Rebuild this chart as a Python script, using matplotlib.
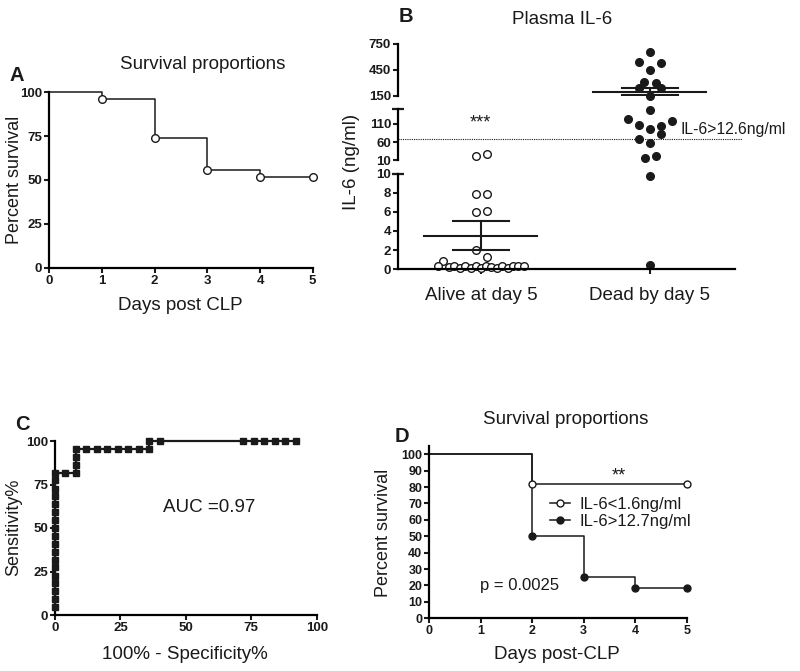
import matplotlib
matplotlib.use("Agg")
from matplotlib import pyplot as plt
from matplotlib.lines import Line2D

plt.rcParams["font.family"] = ["Liberation Sans", "DejaVu Sans"]
plt.rcParams["text.color"] = "#1a1a1a"

# panel A - overall survival after CLP
days_a = [0, 1, 2, 3, 4, 5]
surv_a = [100, 96.3, 74.1, 55.6, 51.9, 51.9]

# panel B - plasma IL-6 (values as drawn on the broken axis)
groups_b = ["Alive at day 5", "Dead by day 5"]
alive_il6 = [22, 27, 7.9, 7.9, 6.0, 6.1, 2.0, 1.25, 0.86,
             0.35, 0.2, 0.3, 0.1, 0.3, 0.1, 0.3, 0.15,
             0.3, 0.2, 0.1, 0.3, 0.15, 0.3, 0.35, 0.3]
dead_il6 = [661, 539, 527, 450, 308, 296, 239, 239, 153, 148, 123,
            119, 107, 104, 95, 82, 68, 57, 23, 15.5, 9.7, 0.4]
alive_mean, alive_sem = 3.5, 1.5
dead_mean, dead_sem = 200, 39
cutoff_drawn = 68
cutoff_label = "IL-6>12.6ng/ml"

# horizontal spread of the dots (beeswarm layout)
alive_jitter = [-0.03, 0.035, -0.03, 0.035, -0.03, 0.035, -0.03, 0.035, -0.225,
                -0.255, -0.19, -0.157, -0.125, -0.093, -0.06, -0.03, 0.0,
                0.03, 0.062, 0.094, 0.126, 0.158, 0.19, 0.222, 0.255]
dead_jitter = [0, -0.065, 0.065, 0, -0.033, 0.033, -0.065, 0.065, 0, 0, -0.13,
               0.13, -0.065, 0.065, 0, 0.065, -0.065, 0, 0.033, -0.03, 0, 0]

# panel C - ROC curve
roc_fpr = [0, 0, 0, 0, 0, 0, 0, 0, 0, 0, 0, 0, 0, 0, 0, 0, 0, 0,
           4, 8, 8, 8, 8, 12, 16, 20, 24, 28, 32, 36, 36, 40,
           72, 76, 80, 84, 88, 92]
roc_tpr = [4.5, 9.1, 13.6, 18.2, 22.7, 27.3, 31.8, 36.4, 40.9, 45.5, 50.0,
           54.5, 59.1, 63.6, 68.2, 72.7, 77.3, 81.8,
           81.8, 81.8, 86.4, 90.9, 95.5, 95.5, 95.5, 95.5, 95.5, 95.5, 95.5,
           95.5, 100, 100, 100, 100, 100, 100, 100, 100]
auc_text = "AUC =0.97"

# panel D - survival split by IL-6
days_low = [0, 2, 5]
surv_low = [100, 81.8, 81.8]
days_high = [0, 2, 3, 4, 5]
surv_high = [100, 50, 25, 18.75, 18.75]
label_low = "IL-6<1.6ng/ml"
label_high = "IL-6>12.7ng/ml"
p_text = "p = 0.0025"

W, H = 800, 671
INK = "#1a1a1a"


def px(x, y):
    return x / W, 1 - y / H


def box(x0, y_top, x1, y_bot):
    return [x0 / W, 1 - y_bot / H, (x1 - x0) / W, (y_bot - y_top) / H]


def style_axes(ax, bottom=True, labelsize=9.5):
    for s in ["top", "right"]:
        ax.spines[s].set_visible(False)
    ax.spines["left"].set_linewidth(1.6)
    ax.spines["bottom"].set_linewidth(1.6)
    ax.spines["bottom"].set_visible(bottom)
    ax.tick_params(direction="out", length=3.5, width=1.5, labelsize=labelsize,
                   pad=1.5, colors=INK)
    for lab in ax.get_yticklabels():
        lab.set_fontweight("bold")
    for lab in ax.get_xticklabels():
        lab.set_fontweight("bold")


fig = plt.figure(figsize=(W / 100, H / 100), dpi=100)

# ---------------- A ----------------
ax = fig.add_axes(box(49.3, 92.3, 312.7, 267.7))
ax.step(days_a, surv_a, where="post", color=INK, lw=1.1, clip_on=False)
ax.plot(days_a[1:], surv_a[1:], "o", ms=5.5, mfc="white", mec=INK, mew=1.0,
        clip_on=False, zorder=3)
ax.set_xlim(0, 5)
ax.set_ylim(0, 100)
ax.set_xticks(range(0, 6))
ax.set_yticks([0, 25, 50, 75, 100])
style_axes(ax)
fig.text(*px(17, 75.5), "A", fontsize=14.5, fontweight="bold", ha="center", va="center")
fig.text(*px(203, 64.5), "Survival proportions", fontsize=13.5, ha="center", va="center")
fig.text(*px(14.5, 180), "Percent survival", fontsize=13, rotation=90, ha="center", va="center")
fig.text(*px(180.5, 305), "Days post CLP", fontsize=13.5, ha="center", va="center")

# ---------------- B (broken y axis) ----------------
xlim_b = (-0.49, 1.503)
ax_bot = fig.add_axes(box(398, 173.5, 735, 269.3))
ax_mid = fig.add_axes(box(398, 109, 735, 160.3))
ax_top = fig.add_axes(box(398, 44, 735, 96))
segments = [(ax_bot, 0, 10, [0, 2, 4, 6, 8, 10]),
            (ax_mid, 10, 151, [10, 60, 110]),
            (ax_top, 150, 750, [150, 450, 750])]


def seg_axes(v):
    if v <= 10:
        return ax_bot
    if v < 150:
        return ax_mid
    return ax_top


for a, lo, hi, ticks in segments:
    a.set_xlim(*xlim_b)
    a.set_ylim(lo, hi)
    a.set_yticks(ticks)
    a.patch.set_alpha(0)
    if a is ax_bot:
        a.set_xticks([0, 1])
        a.set_xticklabels(groups_b)
        style_axes(a)
        a.tick_params(axis="x", labelsize=13.5, pad=9.5)
        for lab in a.get_xticklabels():
            lab.set_fontweight("normal")
    else:
        a.set_xticks([])
        style_axes(a, bottom=False)

# T shaped caps where the axis is broken
for a, yv in [(ax_bot, 10), (ax_mid, 151)]:
    a.plot([0], [yv], marker="_", ms=8, mew=1.6, color=INK,
           transform=a.get_yaxis_transform(), clip_on=False)

for v, j in zip(alive_il6, alive_jitter):
    seg_axes(v).plot(0 + j, v, "o", ms=5.5, mfc="white", mec=INK, mew=1.0,
                     clip_on=False, zorder=2)
for v, j in zip(dead_il6, dead_jitter):
    seg_axes(v).plot(1 + j, v, "o", ms=5.5, color=INK, clip_on=False, zorder=2)

# mean +/- SEM
for xc, m, e in [(0, alive_mean, alive_sem), (1, dead_mean, dead_sem)]:
    a = seg_axes(m)
    a.plot([xc - 0.334, xc + 0.334], [m, m], color=INK, lw=1.5, zorder=3)
    a.plot([xc, xc], [m - e, m + e], color=INK, lw=1.5, zorder=3)
    for yy in (m - e, m + e):
        a.plot([xc - 0.166, xc + 0.166], [yy, yy], color=INK, lw=1.5, zorder=3)

ax_mid.plot([xlim_b[0], 1.544], [cutoff_drawn, cutoff_drawn], color=INK,
            lw=0.8, ls=(0, (1, 1)), clip_on=False)
ax_mid.text(1.178, 93.5, cutoff_label, fontsize=11.3, ha="left", va="center")
ax_mid.text(0, 113, "***", fontsize=13, ha="center", va="center")

fig.text(*px(406, 17), "B", fontsize=14.5, fontweight="bold", ha="center", va="center")
fig.text(*px(562, 20), "Plasma IL-6", fontsize=13.5, ha="center", va="center")
fig.text(*px(352, 162), "IL-6 (ng/ml)", fontsize=13.5, rotation=90, ha="center", va="center")

# ---------------- C ----------------
ax = fig.add_axes(box(55, 441, 316.7, 615))
ax.plot(roc_fpr, roc_tpr, "s-", color=INK, lw=1.6, ms=4.6, clip_on=False, zorder=3)
ax.set_xlim(0, 100)
ax.set_ylim(0, 100)
ax.set_xticks([0, 25, 50, 75, 100])
ax.set_yticks([0, 25, 50, 75, 100])
style_axes(ax)
ax.text(58.8, 61.5, auc_text, fontsize=13.5, ha="center", va="center")
fig.text(*px(22.5, 424), "C", fontsize=14.5, fontweight="bold", ha="center", va="center")
fig.text(*px(14, 527.5), "Sensitivity%", fontsize=13, rotation=90, ha="center", va="center")
fig.text(*px(185, 654.5), "100% - Specificity%", fontsize=13.5, ha="center", va="center")

# ---------------- D ----------------
ax = fig.add_axes(box(429.3, 446, 686.7, 618.3))
ax.step(days_low, surv_low, where="post", color=INK, lw=1.1, clip_on=False)
ax.step(days_high, surv_high, where="post", color=INK, lw=1.1, clip_on=False)
ax.plot(days_low[1:], surv_low[1:], "o", ms=5, mfc="white", mec=INK, mew=1.0,
        clip_on=False, zorder=3)
ax.plot(days_high[1:], surv_high[1:], "o", ms=5, color=INK, clip_on=False, zorder=3)
ax.set_xlim(0, 5)
ax.set_ylim(0, 105)
ax.set_xticks(range(0, 6))
ax.set_yticks(range(0, 101, 10))
style_axes(ax, labelsize=9)
ax.text(3.68, 87, "**", fontsize=13, ha="center", va="center")
ax.text(1.75, 19.7, p_text, fontsize=12, ha="center", va="center")
handles = [Line2D([], [], color=INK, lw=1.1, marker="o", ms=5, mfc="white", mec=INK),
           Line2D([], [], color=INK, lw=1.1, marker="o", ms=5)]
fig.legend(handles, [label_low, label_high], loc="center left",
           bbox_to_anchor=px(550, 513), frameon=False, fontsize=12,
           handlelength=1.2, handletextpad=0.55, labelspacing=0.1,
           borderpad=0, borderaxespad=0)
fig.text(*px(402, 437), "D", fontsize=14.5, fontweight="bold", ha="center", va="center")
fig.text(*px(566, 419.5), "Survival proportions", fontsize=13.5, ha="center", va="center")
fig.text(*px(384, 533), "Percent survival", fontsize=13, rotation=90, ha="center", va="center")
fig.text(*px(557, 654.5), "Days post-CLP", fontsize=13.5, ha="center", va="center")

fig.savefig("out.png", dpi=100)
